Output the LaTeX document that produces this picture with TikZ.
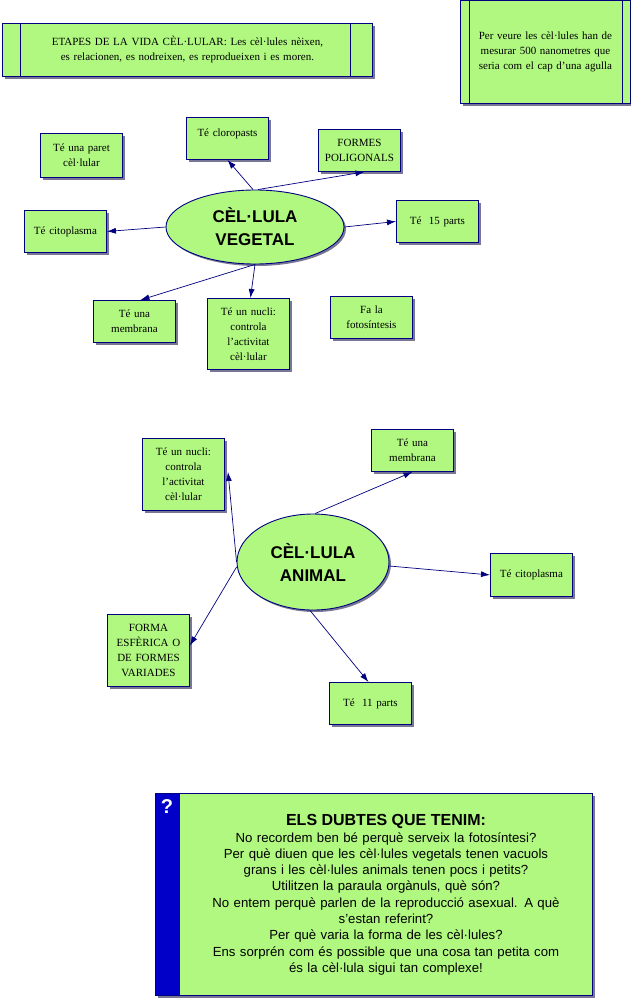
\documentclass[tikz,border=0pt]{standalone}
\usepackage{fontspec}
\setmainfont{Liberation Serif}
\setsansfont{Liberation Sans}
\usetikzlibrary{shadows,shapes.geometric,arrows.meta}
\begin{document}
\definecolor{gf}{RGB}{176,248,128}
\definecolor{nv}{RGB}{0,0,128}
\definecolor{sh}{RGB}{120,120,150}
\begin{tikzpicture}[x=1pt,y=-1pt,
  bx/.style={draw=nv,fill=gf,line width=0.9pt,align=center,inner sep=2pt,
    font=\fontsize{11}{15}\selectfont,
    general shadow={fill=sh,shadow xshift=3pt,shadow yshift=-3pt}},
  el/.style={ellipse,draw=nv,fill=gf,line width=0.9pt,align=center,
    font=\sffamily\bfseries\fontsize{17}{23}\selectfont,
    general shadow={fill=sh,shadow xshift=2pt,shadow yshift=-2pt}},
  ar/.style={nv,line width=0.7pt,-{Latex[length=9pt,width=6pt]}}]
\useasboundingbox (0,0) rectangle (631,998);
% top boxes
\node[bx,minimum width=370,minimum height=53,anchor=north west,text width=320] (et) at (2,23)
 {ETAPES DE LA VIDA CÈL·LULAR: Les cèl·lules nèixen, es relacionen, es nodreixen, es reprodueixen i es moren.};
\draw[nv,line width=0.9pt] (20,23) -- (20,76) (350,23) -- (350,76);
\node[bx,minimum width=170,minimum height=103,anchor=north west,text width=150] (pv) at (460,0)
 {Per veure les cèl·lules han de mesurar 500 nanometres que seria com el cap d'una agulla};
\draw[nv,line width=0.9pt] (469,0) -- (469,103) (622,0) -- (622,103);
% vegetal
\tikzset{sb/.style={bx,minimum width=82,minimum height=42,text width=78,anchor=north west}}
\node[el,minimum width=178,minimum height=74] (cv) at (255,227) {CÈL·LULA\\VEGETAL};
\node[sb,minimum height=44] (p) at (40,133) {Té una paret\\cèl·lular};
\node[sb] (clo) at (186,117) {Té cloropasts\\[-4pt]~};
\node[sb] (fp) at (318,129) {FORMES\\POLIGONALS};
\node[sb] (q15) at (396,200) {Té~ 15 parts};
\node[sb] (cit) at (24,210) {Té citoplasma};
\node[sb] (mem) at (93,300) {Té una\\membrana};
\node[sb,minimum height=71] (nuc) at (207,298) {Té un nucli:\\controla\\l'activitat\\cèl·lular};
\node[sb] (fot) at (330,296) {Fa la\\fotosíntesis};
\draw[ar] (cv.north) ++(-2,0) -- (clo.south);
\draw[ar] (cv.north) ++(3,0) -- ([xshift=5pt]fp.south);
\draw[ar] (cv.east) -- (q15.west);
\draw[ar] (cv.west) -- (cit.east);
\draw[ar] (cv.south) -- ([xshift=6pt]mem.north);
\draw[ar] (cv.south) -- ([xshift=2pt]nuc.north);
% animal
\node[el,minimum width=152,minimum height=96] (ca) at (313,562) {CÈL·LULA\\ANIMAL};
\node[sb,minimum height=72] (nu2) at (142,438) {Té un nucli:\\controla\\l'activitat\\cèl·lular};
\node[sb] (me2) at (371,429) {Té una\\membrana};
\node[sb,minimum height=43] (ci2) at (490,553) {Té citoplasma};
\node[sb,minimum height=72] (fe) at (107,614) {FORMA\\ESFÈRICA O\\DE FORMES\\VARIADES};
\node[sb] (p11) at (329,682) {Té~ 11 parts};
\coordinate (n2t) at (228,472);
\draw[ar] (ca.west) -- (n2t);
\draw[ar] (ca.north) ++(2,0) -- (me2.south);
\draw[ar] (ca.east) ++(0,4) -- (ci2.west);
\draw[ar] (ca.west) ++(0,5) -- ([yshift=5pt]fe.east);
\draw[ar] (ca.south) ++(-3,0) -- ([xshift=-2pt]p11.north);
% questions
\node[bx,minimum width=437,minimum height=202,anchor=north west] (dq) at (155,793) {};
\fill[fill={rgb,255:red,0;green,0;blue,200}] (155.5,793.5) rectangle (180,994.5);
\draw[nv,line width=0.9pt] (155,793) rectangle (592,995);
\node[text=white,font=\sffamily\bfseries\fontsize{20}{20}\selectfont] (qm) at (167,807) {?};
\node[align=center,font=\sffamily\fontsize{13.2}{16.3}\selectfont,text width=420,anchor=north] (dt) at (386,811)
{{\bfseries\fontsize{16}{17}\selectfont ELS DUBTES QUE TENIM:}\\
No recordem ben bé perquè serveix la fotosíntesi?\\
Per què diuen que les cèl·lules vegetals tenen vacuols\\
grans i les cèl·lules animals tenen pocs i petits?\\
Utilitzen la paraula orgànuls, què són?\\
No entem perquè parlen de la reproducció asexual. A què\\
s'estan referint?\\
Per què varia la forma de les cèl·lules?\\
Ens sorprén com és possible que una cosa tan petita com\\
és la cèl·lula sigui tan complexe!};
\end{tikzpicture}
\end{document}
